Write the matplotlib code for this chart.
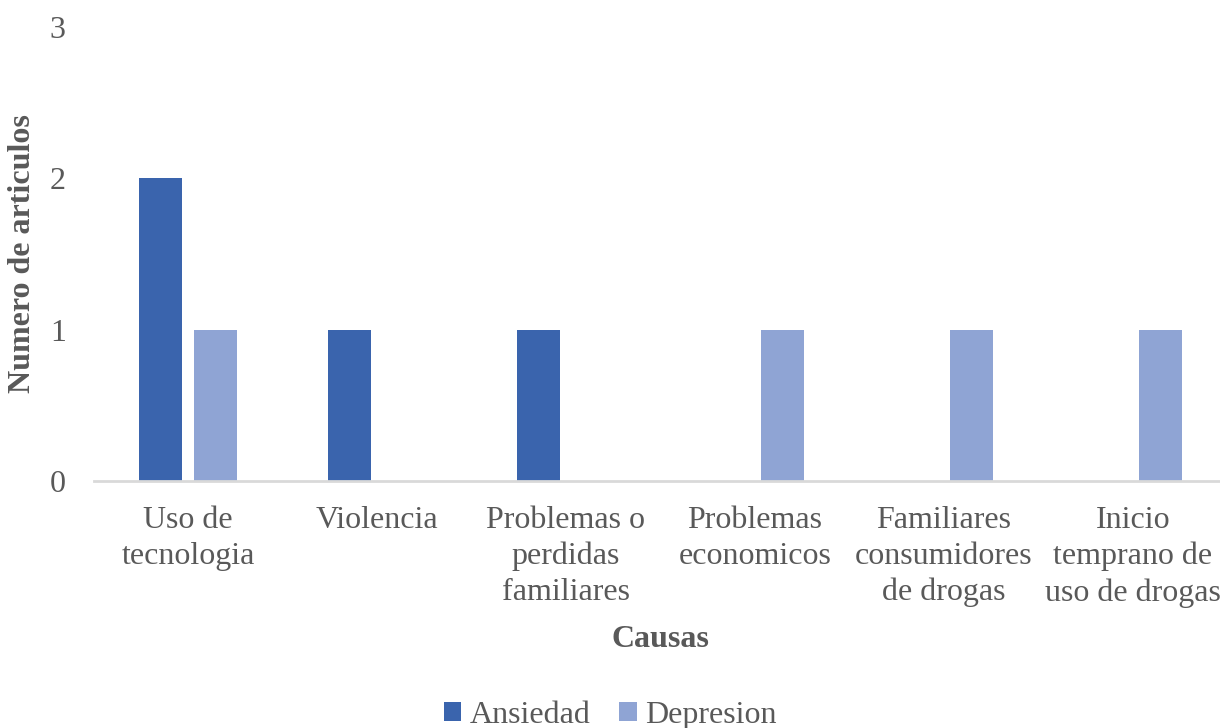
import matplotlib
matplotlib.use("Agg")
import matplotlib.pyplot as plt
import numpy as np

causas = [
    "Uso de\ntecnologia",
    "Violencia",
    "Problemas o\nperdidas\nfamiliares",
    "Problemas\neconomicos",
    "Familiares\nconsumidores\nde drogas",
    "Inicio\ntemprano de\nuso de drogas",
]
ansiedad = [2, 1, 1, 0, 0, 0]
depresion = [1, 0, 0, 1, 1, 1]

DARK = "#3A64AD"
LIGHT = "#8FA4D4"
TEXT = "#595959"
AXIS = "#D9D9D9"

plt.rcParams.update({
    "font.family": ["Liberation Serif", "DejaVu Serif"],
    "font.size": 23,
    "text.color": TEXT,
    "axes.labelcolor": TEXT,
    "xtick.color": TEXT,
    "ytick.color": TEXT,
})

fig = plt.figure(figsize=(12.2, 7.28), dpi=100)
ax = fig.add_axes([93.5 / 1220, 247 / 728, 1134 / 1220, 454 / 728])

x = np.arange(len(causas))
w = 0.228
off = 0.145
ax.bar(x - off, ansiedad, w, color=DARK, label="Ansiedad")
ax.bar(x + off, depresion, w, color=LIGHT, label="Depresion")

ax.set_xlim(-0.5, len(causas) - 0.5)
ax.set_ylim(0, 3)
ax.set_yticks([0, 1, 2, 3])
ax.set_xticks(x)
ax.set_xticklabels(causas, linespacing=1.3)

for s in ["top", "right", "left"]:
    ax.spines[s].set_visible(False)
ax.spines["bottom"].set_color(AXIS)
ax.spines["bottom"].set_linewidth(2)
ax.tick_params(axis="both", length=0)
ax.tick_params(axis="x", pad=18)
ax.tick_params(axis="y", pad=20)

ax.set_xlabel("Causas", fontweight="bold")
ax.xaxis.set_label_coords(0.5, -0.318)
ax.set_ylabel("Numero de articulos", fontweight="bold")
ax.yaxis.set_label_coords(-0.05, 0.5)

fig.legend(loc="center", bbox_to_anchor=(0.5, 0.017), ncol=2,
           frameon=False, handlelength=0.55, handleheight=0.55,
           handletextpad=0.25, columnspacing=0.9)

fig.savefig("out.png", dpi=100)
